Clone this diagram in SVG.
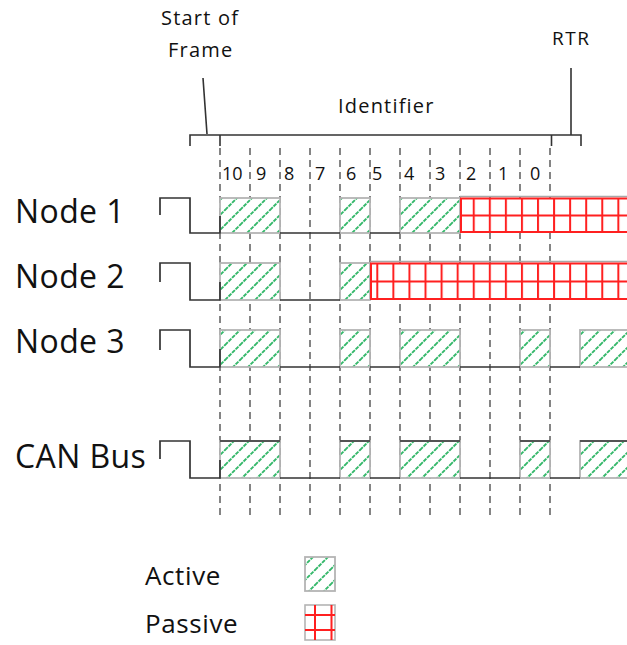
<svg xmlns="http://www.w3.org/2000/svg" width="627" height="645" viewBox="0 0 627 645">
<defs>
<pattern id="hatch" patternUnits="userSpaceOnUse" x="0" y="0" width="15" height="15">
<rect width="15" height="15" fill="#fff"/>
<path d="M0,15 L15,0 M-4,4 L4,-4 M11,19 L19,11" stroke="#34b86a" stroke-width="1.9" stroke-dasharray="4 1"/>
</pattern>
<pattern id="grid" patternUnits="userSpaceOnUse" x="6.7" y="0" width="16.07" height="645">
<rect width="16.07" height="645" fill="#fff"/>
<rect x="0" y="0" width="2" height="645" fill="#ff2020"/>
</pattern>
</defs>
<style>
.lbl{font-family:"Open Sans","Liberation Sans",sans-serif;fill:#111}
.dash{stroke:#666;stroke-width:1.6;stroke-dasharray:7 5;fill:none}
.box{fill:url(#hatch);stroke:#b4b4b4;stroke-width:1.8}
.wave{stroke:#333;stroke-width:1.7;fill:none}
.gtop{stroke:#a8a8a8;stroke-width:1.6;fill:none}
.red{stroke:#ff2020;stroke-width:2;fill:none}
.blk{stroke:#333;stroke-width:1.6;fill:none}
</style>
<rect width="627" height="645" fill="#fff"/>

<g id="grid-lines">
<path class="dash" d="M220,148V517M250,148V517M280,148V517M310,148V517M340,148V517M370,148V517M400,148V517M430,148V517M460,148V517M490,148V517M520,148V517M550,148V517"/>
</g>

<g id="connectors">
<path class="blk" d="M190,146V135H581V146M220,135V146"/>
<path class="blk" stroke-width="2.6" d="M551.5,135V146"/>
<path class="blk" d="M203,78L207,134M571,68V135"/>
</g>

<g id="header-labels">
<text class="lbl" x="161" y="25" font-size="20" letter-spacing="1.2">Start of</text>
<text class="lbl" x="168" y="56.5" font-size="20" letter-spacing="1.2">Frame</text>
<text class="lbl" x="338" y="112.5" font-size="20" letter-spacing="1.2">Identifier</text>
<text class="lbl" x="552" y="45" font-size="19" letter-spacing="1.5">RTR</text>
<g font-size="18">
<text class="lbl" x="222" y="180">10</text>
<text class="lbl" x="256" y="180">9</text>
<text class="lbl" x="284" y="180">8</text>
<text class="lbl" x="315" y="180">7</text>
<text class="lbl" x="346" y="180">6</text>
<text class="lbl" x="372" y="180">5</text>
<text class="lbl" x="404" y="180">4</text>
<text class="lbl" x="435" y="180">3</text>
<text class="lbl" x="466" y="180">2</text>
<text class="lbl" x="498" y="180">1</text>
<text class="lbl" x="530" y="180">0</text>
</g>
</g>

<g id="node1">
<text class="lbl" x="15" y="223" font-size="32" letter-spacing="0.4">Node 1</text>
<rect class="box" x="220" y="198" width="60" height="35"/>
<rect class="box" x="340" y="198" width="30" height="35"/>
<rect class="box" x="400" y="198" width="60" height="35"/>
<rect x="460" y="198" width="168" height="35" fill="url(#grid)"/>
<path class="gtop" d="M460,196.5H627"/>
<path class="red" d="M461,198V233M460,198.5H627M460,215.5H627M460,232H627"/>
<path class="wave" d="M160,215V198H190V233H220V216M280,233H340M370,233H400"/>
</g>

<g id="node2">
<text class="lbl" x="15" y="288" font-size="32" letter-spacing="0.4">Node 2</text>
<rect class="box" x="220" y="263" width="60" height="37"/>
<rect class="box" x="340" y="263" width="30" height="37"/>
<rect x="370" y="263" width="258" height="37" fill="url(#grid)"/>
<path class="gtop" d="M370,261.5H627"/>
<path class="red" d="M371,263V300M370,263.5H627M370,281.5H627M370,299H627"/>
<path class="wave" d="M160,282V263H190V300H220V282M280,300H340"/>
</g>

<g id="node3">
<text class="lbl" x="15" y="353" font-size="32" letter-spacing="0.4">Node 3</text>
<rect class="box" x="220" y="330" width="60" height="37"/>
<rect class="box" x="340" y="330" width="30" height="37"/>
<rect class="box" x="400" y="330" width="60" height="37"/>
<rect class="box" x="520" y="330" width="30" height="37"/>
<rect class="box" x="580" y="330" width="50" height="37"/>
<path class="wave" d="M160,350V330H190V367H220V349M280,367H340M370,367H400M460,367H520M550,367H580"/>
</g>

<g id="can-bus">
<text class="lbl" x="15" y="468" font-size="32" letter-spacing="0.4">CAN Bus</text>
<rect class="box" x="220" y="441" width="60" height="37"/>
<rect class="box" x="340" y="441" width="30" height="37"/>
<rect class="box" x="400" y="441" width="60" height="37"/>
<rect class="box" x="520" y="441" width="30" height="37"/>
<rect class="box" x="580" y="441" width="50" height="37"/>
<path class="wave" d="M160,459V441H190V478H220V460M280,478H340M370,478H400M460,478H520M550,478H580"/>
<path class="wave" d="M220,441H280M340,441H370M400,441H460M520,441H550M580,441H627"/>
</g>

<g id="legend-active">
<text class="lbl" x="145" y="585" font-size="26" letter-spacing="0.6">Active</text>
<rect class="box" x="305" y="557" width="30" height="34"/>
</g>
<g id="legend-passive">
<text class="lbl" x="145" y="633" font-size="26" letter-spacing="0.6">Passive</text>
<rect x="305" y="605" width="30" height="35" fill="#fff" stroke="#b4b4b4" stroke-width="1.6"/>
<path class="red" d="M315,605V640M331.5,605V640M305,615H335M305,630H335"/>
</g>
</svg>
